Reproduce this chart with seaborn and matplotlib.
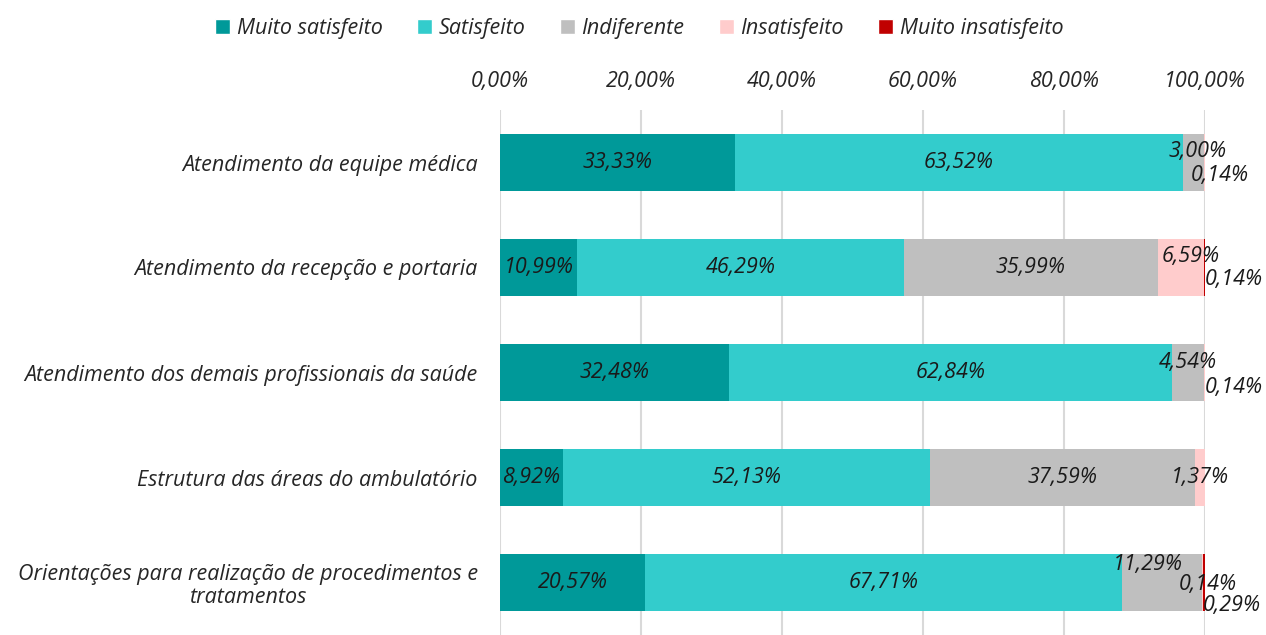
import pandas as pd
import seaborn as sns
import matplotlib.pyplot as plt
from matplotlib.patches import Patch
from matplotlib.ticker import FuncFormatter

# data (percent)
categories = [
    "Atendimento da equipe médica",
    "Atendimento da recepção e portaria",
    "Atendimento dos demais profissionais da saúde",
    "Estrutura das áreas do ambulatório",
    "Orientações para realização de procedimentos e\ntratamentos",
]
series_names = ["Muito satisfeito", "Satisfeito", "Indiferente", "Insatisfeito", "Muito insatisfeito"]
muito_satisfeito = [33.33, 10.99, 32.48, 8.92, 20.57]
satisfeito = [63.52, 46.29, 62.84, 52.13, 67.71]
indiferente = [3.00, 35.99, 4.54, 37.59, 11.29]
insatisfeito = [0.14, 6.59, 0.14, 1.37, 0.14]
muito_insatisfeito = [0.0, 0.14, 0.0, 0.0, 0.29]

colors = ["#009999", "#33CCCC", "#BFBFBF", "#FFCCCC", "#C00000"]

sns.set_style("white")
plt.rcParams["font.family"] = ["Open Sans", "DejaVu Sans"]
FS = 15.5

df = pd.DataFrame({
    "categoria": categories,
    "Muito satisfeito": muito_satisfeito,
    "Satisfeito": satisfeito,
    "Indiferente": indiferente,
    "Insatisfeito": insatisfeito,
    "Muito insatisfeito": muito_insatisfeito,
})
cum = df[series_names].cumsum(axis=1) / 100.0

fig = plt.figure(figsize=(12.66, 6.35), dpi=100)
ax = fig.add_axes([500 / 1266, 0, 705 / 1266, 525 / 635])

# stacked bars: draw cumulative totals from the largest down
for name, col in reversed(list(zip(series_names, colors))):
    sns.barplot(x=cum[name], y=df["categoria"], color=col, orient="h",
                width=0.54, ax=ax, saturation=1, linewidth=0, edgecolor="none", zorder=3)

ax.set_xlim(0, 1)
ax.set_ylim(4.5, -0.5)
ax.set_xticks([0, 0.2, 0.4, 0.6, 0.8, 1.0])
ax.xaxis.set_major_formatter(FuncFormatter(lambda v, p: f"{v * 100:.2f}%".replace(".", ",")))
ax.xaxis.tick_top()
ax.tick_params(axis="x", length=0, pad=13, labelsize=FS)
ax.tick_params(axis="y", length=0, pad=16, labelsize=FS)
for lab in ax.get_xticklabels():
    lab.set_fontstyle("italic")
for lab in ax.get_yticklabels():
    lab.set_fontstyle("italic")
    lab.set_multialignment("center")
    lab.set_linespacing(1.1)
ax.grid(axis="x", color="#D9D9D9", linewidth=1.5, zorder=0)
ax.set_axisbelow(True)
ax.set_xlabel("")
ax.set_ylabel("")
for s in ax.spines.values():
    s.set_visible(False)

# value labels; small segments get nudged like Excel does (offsets in points)
nudges = {
    (0, 2): (3, 8), (0, 3): (11, -9),
    (1, 3): (7, 8), (1, 4): (21, -9),
    (2, 2): (0, 7), (2, 3): (21, -11),
    (3, 3): (0, 0),
    (4, 2): (-10, 13), (4, 3): (4, -1.5), (4, 4): (20, -16.5),
}
for i in range(len(categories)):
    start = 0.0
    for j, name in enumerate(series_names):
        v = df.loc[i, name]
        if v > 0:
            center = start + v / 200.0
            dx, dy = nudges.get((i, j), (0, 0))
            ax.annotate(f"{v:.2f}%".replace(".", ","), (center, i), xytext=(dx, dy),
                        textcoords="offset points", ha="center", va="center",
                        fontsize=FS, fontstyle="italic", color="#1a1a1a",
                        annotation_clip=False, zorder=5)
        start += v / 100.0

handles = [Patch(facecolor=c, label=n) for n, c in zip(series_names, colors)]
leg = fig.legend(handles=handles, loc="center", bbox_to_anchor=(0.505, 0.955), ncol=5,
                 frameon=False, handlelength=0.7, handleheight=0.7, handletextpad=0.3,
                 columnspacing=1.6, prop={"size": FS, "style": "italic"})

fig.savefig("out.png", dpi=100)
